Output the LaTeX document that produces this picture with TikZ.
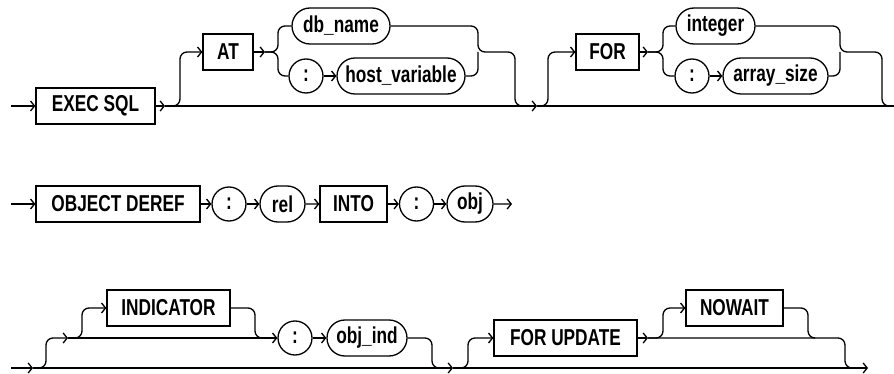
\documentclass[tikz,border=0pt]{standalone}
\usepackage{fontspec}
\setmainfont{Liberation Sans}
\newfontfamily\diagfont[FakeStretch=0.75]{Liberation Sans Bold}
\usetikzlibrary{arrows.meta,shapes.misc}

\begin{document}
\begin{tikzpicture}[
			x=1pt, y=-1pt,
			linea/.style={line width=1.3pt, rounded corners=7pt},
			freccia/.style={line width=1.3pt, rounded corners=7pt,
				-{Straight Barb[length=4pt,width=10pt]}},
			parola/.style={rectangle, draw, line width=1.3pt,
				minimum height=36pt, inner sep=0pt,
				font={\diagfont\fontsize{23pt}{23pt}\selectfont}},
			variabile/.style={rounded rectangle, draw, line width=1.3pt,
				minimum height=36pt, inner sep=0pt,
				font={\diagfont\fontsize{23pt}{23pt}\selectfont}},
			duepunti/.style={circle, draw, line width=1.3pt,
				minimum size=34pt, inner sep=0pt,
				font={\diagfont\fontsize{23pt}{23pt}\selectfont}},
			]
			\useasboundingbox (0,0) rectangle (894,374);
			
			\node[parola, minimum width=119pt] (execsql) at (95.5,106) {EXEC SQL};
			\node[parola, minimum width=50pt] (kat) at (228,52) {AT};
			\node[variabile, minimum width=98pt] (dbname) at (341,26) {db\_name};
			\node[duepunti] (dp1) at (306,76) {:};
			\node[variabile, minimum width=128pt] (hostvar) at (401,76) {host\_variable};
			\node[parola, minimum width=63pt] (kfor) at (607.5,52) {FOR};
			\node[variabile, minimum width=79pt] (integer) at (715.5,26) {integer};
			\node[duepunti] (dp2) at (692,76) {:};
			\node[variabile, minimum width=105pt] (arraysize) at (775.5,76) {array\_size};
			
			\coordinate (s1) at (11,106);
			\coordinate (f1) at (165,106);
			\coordinate (u1) at (180,52);
			\coordinate (g1) at (265,52);
			\coordinate (k1) at (278,52);
			\coordinate (m1) at (478,52);
			\coordinate (d1) at (515,106);
			\coordinate (d1e) at (523,106);
			\coordinate (f2) at (537,106);
			\coordinate (u2) at (548,52);
			\coordinate (g2) at (648,52);
			\coordinate (k2) at (663,52);
			\coordinate (m2) at (840,52);
			\coordinate (d2) at (882,106);
			\coordinate (e1) at (894,106);
			
			\draw[freccia](s1)--(execsql);
			\draw[freccia](execsql)--(f1);
			\draw[freccia](f1)--(f2);
			\draw[linea](f2)--(e1);
			\draw[freccia](f1)-|(u1)--(kat);
			\draw[freccia](kat)--(g1);
			\draw[linea](g1)--(k1)|-(dbname);
			\draw[linea](g1)--(k1)|-(dp1);
			\draw[freccia](dp1)--(hostvar);
			\draw[linea](dbname)-|(m1)-|(d1)--(d1e);
			\draw[linea](hostvar)-|(m1);
			\draw[freccia](f2)-|(u2)--(kfor);
			\draw[freccia](kfor)--(g2);
			\draw[linea](g2)--(k2)|-(integer);
			\draw[linea](g2)--(k2)|-(dp2);
			\draw[freccia](dp2)--(arraysize);
			\draw[linea](integer)-|(m2)-|(d2)--(e1);
			\draw[linea](arraysize)-|(m2);
			
			\node[parola, minimum width=164pt] (objderef) at (118,204) {OBJECT DEREF};
			\node[duepunti] (dp3) at (229,204) {:};
			\node[variabile, minimum width=45pt] (rel) at (282.5,204) {rel};
			\node[parola, minimum width=67pt] (into) at (353.5,204) {INTO};
			\node[duepunti] (dp4) at (416.5,204) {:};
			\node[variabile, minimum width=46pt] (obj) at (470,204) {obj};
			\coordinate (s2) at (11,204);
			\coordinate (e2) at (512,204);
			\draw[freccia](s2)--(objderef);
			\draw[freccia](objderef)--(dp3);
			\draw[freccia](dp3)--(rel);
			\draw[freccia](rel)--(into);
			\draw[freccia](into)--(dp4);
			\draw[freccia](dp4)--(obj);
			\draw[freccia](obj)--(e2);
			
			\node[parola, minimum width=123pt] (indicator) at (168.5,308) {INDICATOR};
			\node[duepunti] (dp5) at (295,338) {:};
			\node[variabile, minimum width=80pt] (objind) at (367,338) {obj\_ind};
			\node[parola, minimum width=143pt] (forupdate) at (565.5,338) {FOR UPDATE};
			\node[parola, minimum width=97pt] (nowait) at (734.5,308) {NOWAIT};
			
			\coordinate (s3) at (11,368);
			\coordinate (f5) at (33,368);
			\coordinate (u5) at (46,338);
			\coordinate (f7) at (68,338);
			\coordinate (u6) at (82,308);
			\coordinate (d6) at (255,338);
			\coordinate (d6e) at (262,338);
			\coordinate (d7) at (432,368);
			\coordinate (d7e) at (440,368);
			\coordinate (f6) at (453,368);
			\coordinate (u7) at (468,338);
			\coordinate (f8) at (648,338);
			\coordinate (u8) at (663,308);
			\coordinate (d8) at (808,338);
			\coordinate (d8e) at (815,338);
			\coordinate (d9) at (845,368);
			\coordinate (d9e) at (852,368);
			\coordinate (e3) at (868,368);
			
			\draw[freccia](s3)--(f5);
			\draw[freccia](f5)--(f6);
			\draw[freccia](f5)-|(u5)--(f7);
			\draw[freccia](f7)-|(u6)--(indicator);
			\draw[freccia](f7)--(dp5);
			\draw[linea](indicator)-|(d6)--(d6e);
			\draw[freccia](dp5)--(objind);
			\draw[linea](objind)-|(d7)--(d7e);
			\draw[freccia](f6)--(e3);
			\draw[freccia](f6)-|(u7)--(forupdate);
			\draw[freccia](forupdate)--(f8);
			\draw[freccia](f8)-|(u8)--(nowait);
			\draw[linea](nowait)-|(d8)--(d8e);
			\draw[linea](f8)-|(d9)--(d9e);
		\end{tikzpicture}
\end{document}
